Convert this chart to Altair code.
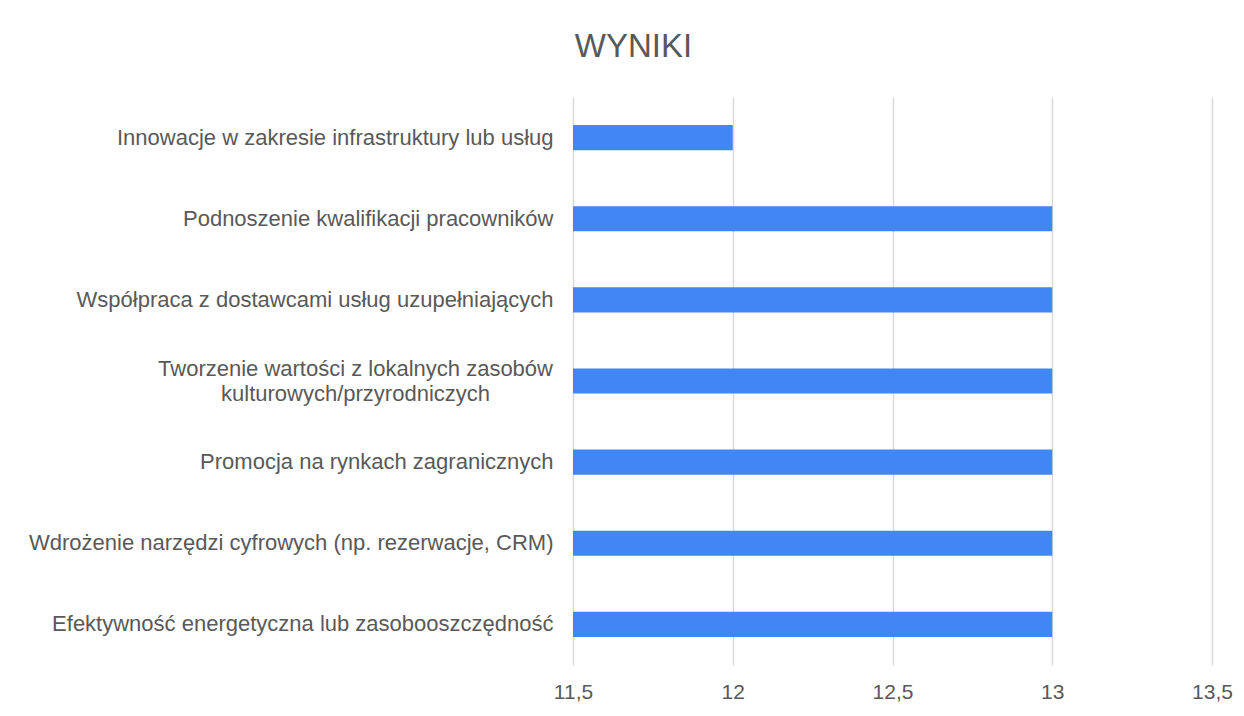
import altair as alt
import pandas as pd

categories = [
    "Innowacje w zakresie infrastruktury lub usług",
    "Podnoszenie kwalifikacji pracowników",
    "Współpraca z dostawcami usług uzupełniających",
    "Tworzenie wartości z lokalnych zasobów|kulturowych/przyrodniczych",
    "Promocja na rynkach zagranicznych",
    "Wdrożenie narzędzi cyfrowych (np. rezerwacje, CRM)",
    "Efektywność energetyczna lub zasobooszczędność",
]
values = [12, 13, 13, 13, 13, 13, 13]
x_ticks = [11.5, 12, 12.5, 13, 13.5]
baseline = 11.5

df = pd.DataFrame({"kategoria": categories, "wynik": values, "start": [baseline] * len(values)})

FONT = "Liberation Sans"
GRAY = "#595959"
MULTI = "indexof(datum.label, '|') >= 0"

chart = (
    alt.Chart(df)
    .mark_bar(color="#4285F4")
    .encode(
        y=alt.Y(
            "kategoria:N",
            sort=categories,
            scale=alt.Scale(paddingInner=0.69, paddingOuter=0.345),
            axis=alt.Axis(
                title=None,
                labelExpr="split(datum.label, '|')",
                labelFont=FONT,
                labelFontSize=22,
                labelColor=GRAY,
                labelPadding={"condition": {"test": MULTI, "value": 218}, "value": 20},
                labelAlign={"condition": {"test": MULTI, "value": "center"}, "value": "right"},
                labelOffset={"condition": {"test": MULTI, "value": -12}, "value": 0},
                labelLineHeight=25,
                labelLimit=700,
                ticks=False,
                domain=False,
                grid=False,
            ),
        ),
        x=alt.X(
            "start:Q",
            scale=alt.Scale(domain=[11.5, 13.5], zero=False, nice=False),
            axis=alt.Axis(
                title=None,
                values=x_ticks,
                labelExpr="replace(toString(datum.value), '.', ',')",
                labelFont=FONT,
                labelFontSize=21,
                labelColor=GRAY,
                labelPadding=16,
                labelFlush=False,
                ticks=False,
                domain=False,
                grid=True,
                gridColor="#d9d9d9",
                gridWidth=1.5,
            ),
        ),
        x2="wynik:Q",
    )
    .properties(
        width=639,
        height=568,
        autosize=alt.AutoSizeParams(type="none"),
        padding={"left": 565, "top": 89, "right": 24, "bottom": 43},
        title=alt.TitleParams(
            "WYNIKI",
            font=FONT,
            fontSize=33,
            fontWeight="normal",
            color=GRAY,
            anchor="middle",
            frame="bounds",
            offset=33,
            dx=3,
        ),
    )
    .configure_view(stroke=None)
)

chart.save("out.html", embed_options={"renderer": "svg", "actions": False})
